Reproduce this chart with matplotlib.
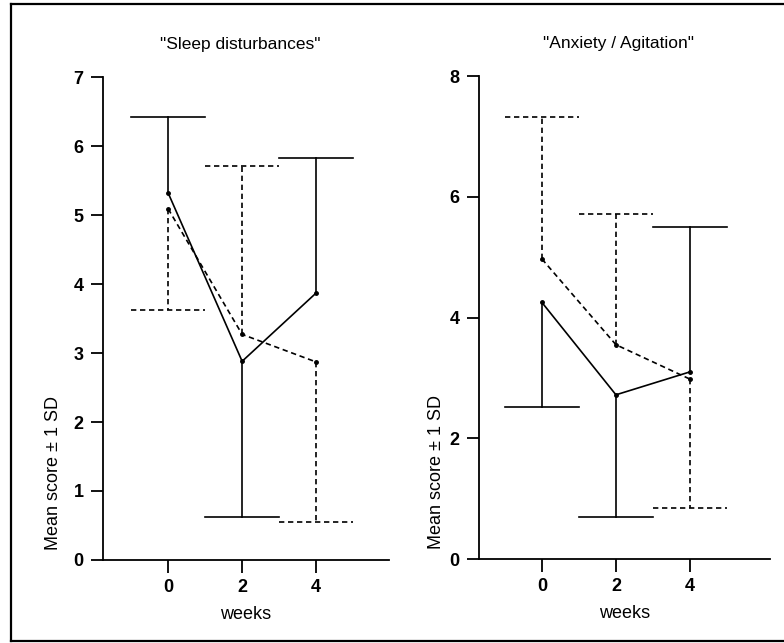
import matplotlib.pyplot as plt
from matplotlib.lines import Line2D

plt.rcParams['font.family'] = ['Liberation Sans', 'DejaVu Sans']

weeks = [0, 2, 4]

# "Sleep disturbances"
sleep_solid = [5.32, 2.88, 3.87]
sleep_solid_sd = [6.42, 0.63, 5.82]      # end of the one-sided SD bar
sleep_dash = [5.09, 3.27, 2.87]
sleep_dash_sd = [3.63, 5.71, 0.55]

# "Anxiety / Agitation"
anx_solid = [4.25, 2.72, 3.10]
anx_solid_sd = [2.52, 0.69, 5.50]
anx_dash = [4.97, 3.55, 2.98]
anx_dash_sd = [7.33, 5.71, 0.85]

fig = plt.figure(figsize=(7.84, 6.43), dpi=100)

# border of the scanned figure
for xs, ys in [([0.014, 0.014], [0.003, 0.994]),
               ([0.014, 1.0], [0.994, 0.994]),
               ([0.014, 1.0], [0.003, 0.003])]:
    fig.add_artist(Line2D(xs, ys, color='black', lw=1.6, transform=fig.transFigure))

dash = (0, (3.2, 2.2))


def panel(rect, title, solid, solid_sd, dashed, dashed_sd, ymax, yticks, xlim, ylab_x):
    ax = fig.add_axes(rect)
    ax.plot(weeks, solid, color='black', lw=1.2, marker='o', ms=2.5)
    ax.plot(weeks, dashed, color='black', lw=1.2, ls=dash, marker='o', ms=2.5)
    for w, m, e in zip(weeks, solid, solid_sd):
        ax.plot([w, w], [m, e], color='black', lw=1.2)
        ax.plot([w - 1, w + 1], [e, e], color='black', lw=1.2)
    for w, m, e in zip(weeks, dashed, dashed_sd):
        ax.plot([w, w], [m, e], color='black', lw=1.2, ls=dash)
        ax.plot([w - 1, w + 1], [e, e], color='black', lw=1.2, ls=dash)
    ax.set_xlim(*xlim)
    ax.set_ylim(0, ymax)
    ax.set_xticks(weeks)
    ax.set_yticks(yticks)
    for s in ['top', 'right']:
        ax.spines[s].set_visible(False)
    for s in ['left', 'bottom']:
        ax.spines[s].set_linewidth(1.3)
    ax.tick_params(direction='out', length=9, width=1.3, labelsize=13, pad=5)
    for lab in ax.get_xticklabels() + ax.get_yticklabels():
        lab.set_fontweight('bold')
    ax.set_xlabel('weeks', fontsize=13, labelpad=7)
    ax.set_ylabel('Mean score \u00b1 1 SD', fontsize=13)
    ax.yaxis.set_label_coords(ylab_x, 0.18)
    ax.text(0.48, 1.068, title, transform=ax.transAxes, ha='center',
            va='center', fontsize=12.5)
    ax.patch.set_alpha(0)
    return ax


panel([0.1314, 0.1291, 0.3648, 0.7511], '"Sleep disturbances"',
      sleep_solid, sleep_solid_sd, sleep_dash, sleep_dash_sd,
      7, range(0, 8), (-1.76, 5.97), -0.143)
panel([0.611, 0.1306, 0.371, 0.7511], '"Anxiety / Agitation"',
      anx_solid, anx_solid_sd, anx_dash, anx_dash_sd,
      8, range(0, 9, 2), (-1.70, 6.16), -0.117)

fig.savefig('out.png', dpi=100)
